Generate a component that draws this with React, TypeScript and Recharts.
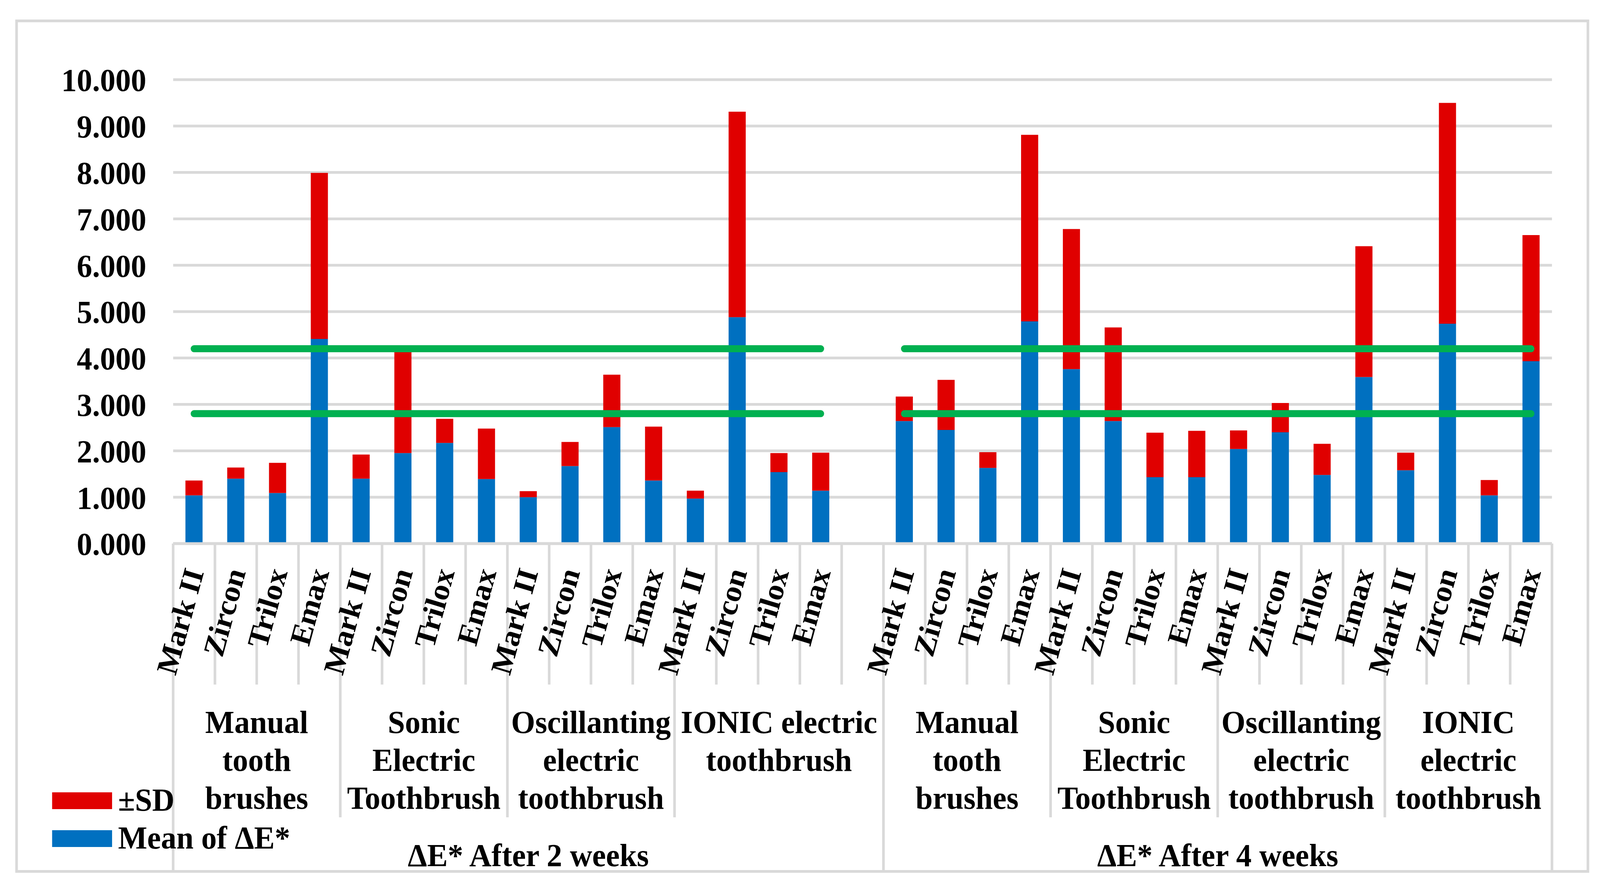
import React from 'react';
import { ComposedChart, Bar, Line, XAxis, YAxis, CartesianGrid, Legend } from 'recharts';

const categories = [
  'Mark II', 'Zircon', 'Trilox', 'Emax',
  'Mark II', 'Zircon', 'Trilox', 'Emax',
  'Mark II', 'Zircon', 'Trilox', 'Emax',
  'Mark II', 'Zircon', 'Trilox', 'Emax',
  '',
  'Mark II', 'Zircon', 'Trilox', 'Emax',
  'Mark II', 'Zircon', 'Trilox', 'Emax',
  'Mark II', 'Zircon', 'Trilox', 'Emax',
  'Mark II', 'Zircon', 'Trilox', 'Emax',
];

const meanValues = [
  1.04, 1.40, 1.09, 4.41,
  1.40, 1.95, 2.17, 1.39,
  1.00, 1.67, 2.51, 1.36,
  0.97, 4.88, 1.54, 1.14,
  null,
  2.64, 2.45, 1.63, 4.79,
  3.76, 2.64, 1.43, 1.43,
  2.04, 2.40, 1.48, 3.59,
  1.58, 4.74, 1.04, 3.93,
];

const sdValues = [
  0.32, 0.24, 0.65, 3.58,
  0.52, 2.18, 0.52, 1.09,
  0.13, 0.52, 1.13, 1.16,
  0.17, 4.43, 0.41, 0.82,
  null,
  0.53, 1.08, 0.34, 4.02,
  3.02, 2.02, 0.96, 1.00,
  0.40, 0.63, 0.67, 2.82,
  0.38, 4.76, 0.33, 2.72,
];

const upperLimit = 4.2;
const lowerLimit = 2.8;

const groupLabels = [
  ['Manual', 'tooth', 'brushes'],
  ['Sonic', 'Electric', 'Toothbrush'],
  ['Oscillanting', 'electric', 'toothbrush'],
  ['IONIC electric', 'toothbrush'],
  ['Manual', 'tooth', 'brushes'],
  ['Sonic', 'Electric', 'Toothbrush'],
  ['Oscillanting', 'electric', 'toothbrush'],
  ['IONIC', 'electric', 'toothbrush'],
];
const groupSizes = [4, 4, 4, 5, 4, 4, 4, 4];

const periodLabels = ['ΔE* After 2 weeks', 'ΔE* After 4 weeks'];
const periodSizes = [17, 16];

const yTicks = [0, 1, 2, 3, 4, 5, 6, 7, 8, 9, 10];

const data = categories.map((c, i) => ({
  slot: String(i),
  label: c,
  mean: meanValues[i],
  sd: sdValues[i],
  upper: c === '' ? null : upperLimit,
  lower: c === '' ? null : lowerLimit,
}));

const starts = (sizes: number[]) => {
  const out: number[] = [];
  let acc = 0;
  sizes.forEach((s) => {
    out.push(acc);
    acc += s;
  });
  return out;
};
const groupStarts = starts(groupSizes);
const periodStarts = starts(periodSizes);

const W = 4297;
const H = 2274;
const LEFT = 465;
const RIGHT_MARGIN = 129;
const TOP = 204;
const X_AXIS_H = 882;
const FONT = "'Liberation Serif', 'Times New Roman', serif";
const GRID = '#D9D9D9';
const FS = 83;

const textStyle = {
  fontFamily: FONT,
  fontWeight: 'bold' as const,
  fontSize: FS,
  fill: '#000',
};

const renderTick = (props: any) => {
  const { x, y, index, payload } = props;
  const n = categories.length;
  const bw = payload && payload.offset ? payload.offset * 2 : (W - LEFT - RIGHT_MARGIN) / n;
  const left = x - bw / 2;
  const isPeriodStart = periodStarts.includes(index);
  const gi = groupStarts.indexOf(index);
  const pi = periodStarts.indexOf(index);
  const lineEnd = isPeriodStart ? y + 839 : gi >= 0 ? y + 701 : y + 361;
  const label = categories[index];
  return (
    <g>
      <line x1={left} y1={y} x2={left} y2={lineEnd} stroke={GRID} strokeWidth={7} />
      {index === n - 1 && (
        <line x1={x + bw / 2} y1={y} x2={x + bw / 2} y2={y + 839} stroke={GRID} strokeWidth={7} />
      )}
      {label && (
        <text
          x={x + 27}
          y={y + 73}
          textAnchor="end"
          transform={`rotate(-74, ${x + 27}, ${y + 73})`}
          style={{ ...textStyle, fontSize: 80 }}
        >
          {label}
        </text>
      )}
      {gi >= 0 && (
        <text
          x={left + (groupSizes[gi] * bw) / 2}
          y={y + 485}
          textAnchor="middle"
          style={textStyle}
        >
          {groupLabels[gi].map((ln, k) => (
            <tspan key={k} x={left + (groupSizes[gi] * bw) / 2} y={y + 485 + k * 97}>
              {ln}
            </tspan>
          ))}
        </text>
      )}
      {pi >= 0 && (
        <text
          x={left + (periodSizes[pi] * bw) / 2}
          y={y + 826}
          textAnchor="middle"
          style={textStyle}
        >
          {periodLabels[pi]}
        </text>
      )}
    </g>
  );
};

const renderLegend = (props: any) => {
  const items = (props.payload || []).filter((p: any) => p.type !== 'none').slice().reverse();
  return (
    <svg width={900} height={220}>
      {items.map((it: any, i: number) => (
        <g key={i}>
          <rect x={140} y={29 + i * 97} width={161} height={43} fill={it.color} />
          <text x={317} y={76 + i * 97} style={textStyle}>
            {it.value}
          </text>
        </g>
      ))}
    </svg>
  );
};

export default function App() {
  const hasWin = typeof window !== 'undefined';
  const vw = hasWin && window.innerWidth ? window.innerWidth : W;
  const vh = hasWin && window.innerHeight ? window.innerHeight : H;
  const sx = vw / W;
  const sy = vh / H;
  return (
    <div
      style={{
        position: 'fixed',
        left: 0,
        top: 0,
        width: W,
        height: H,
        background: '#fff',
        transform: `scale(${sx}, ${sy})`,
        transformOrigin: '0 0',
      }}
    >
      <ComposedChart
        width={W}
        height={H}
        data={data}
        margin={{ top: TOP, right: RIGHT_MARGIN, bottom: 0, left: 0 }}
      >
        <CartesianGrid vertical={false} stroke={GRID} strokeWidth={7} />
        <XAxis
          dataKey="slot"
          type="category"
          height={X_AXIS_H}
          interval={0}
          tickLine={false}
          tickSize={0}
          tickMargin={0}
          axisLine={{ stroke: GRID, strokeWidth: 7 }}
          tick={renderTick}
        />
        <YAxis
          width={LEFT}
          domain={[0, 10]}
          ticks={yTicks}
          interval={0}
          axisLine={false}
          tickLine={false}
          tickSize={0}
          tickMargin={72}
          tickFormatter={(v: number) => v.toFixed(3)}
          tick={textStyle}
        />
        <Legend
          layout="horizontal"
          verticalAlign="middle"
          align="center"
          content={renderLegend}
          wrapperStyle={{ left: 0, top: 2000, width: 900, height: 220 }}
        />
        <Bar dataKey="mean" name="Mean of ΔE*" stackId="a" fill="#0070C0" barSize={46} isAnimationActive={false} />
        <Bar dataKey="sd" name="±SD" stackId="a" fill="#E00000" barSize={46} isAnimationActive={false} />
        <Line
          dataKey="upper"
          stroke="#00B050"
          strokeWidth={18}
          strokeLinecap="round"
          dot={false}
          activeDot={false}
          legendType="none"
          connectNulls={false}
          isAnimationActive={false}
        />
        <Line
          dataKey="lower"
          stroke="#00B050"
          strokeWidth={18}
          strokeLinecap="round"
          dot={false}
          activeDot={false}
          legendType="none"
          connectNulls={false}
          isAnimationActive={false}
        />
      </ComposedChart>
      <div
        style={{
          position: 'absolute',
          left: 41,
          top: 50,
          width: 4268 - 41,
          height: 2235 - 50,
          border: `7px solid ${GRID}`,
          boxSizing: 'border-box',
          pointerEvents: 'none',
        }}
      />
    </div>
  );
}
